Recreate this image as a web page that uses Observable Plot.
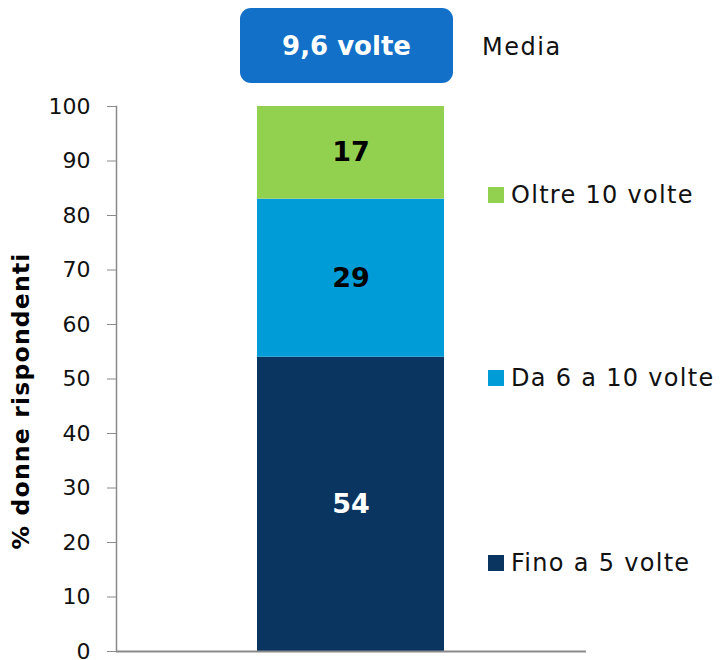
<!DOCTYPE html>
<html>
<head>
<meta charset="utf-8">
<script src="https://cdn.jsdelivr.net/npm/d3@7"></script>
<script src="https://cdn.jsdelivr.net/npm/@observablehq/plot@0.6"></script>
<style>
  html, body { margin: 0; padding: 0; background: #fff; }
  #wrap { position: relative; width: 726px; height: 660px; overflow: hidden; font-family: "DejaVu Sans", sans-serif; }
  #chart svg { display: block; }
  .ov { position: absolute; white-space: nowrap; color: #111; }
  #mean { left: 240px; top: 8px; width: 213px; height: 75px; background: #1270C8; border-radius: 11px;
          color: #fff; font-weight: bold; font-size: 26px; display: flex; align-items: center; justify-content: center; }
  #meanLabel { left: 482px; top: 33px; font-size: 24px; letter-spacing: 1.5px; }
  .leg { position: absolute; left: 488px; display: flex; align-items: center; font-size: 24px; letter-spacing: 1.3px; color: #111; white-space: nowrap; }
  .leg span.sw { display: inline-block; width: 16px; height: 16px; margin-right: 7px; }
  #ylab { left: 21px; top: 401px; transform: translate(-50%, -50%) rotate(-90deg); font-weight: bold; font-size: 23.5px; letter-spacing: 1.2px; color: #000; }
</style>
</head>
<body>
<div id="wrap">
  <div id="chart"></div>
</div>
<script>
const categories = ["Fino a 5 volte", "Da 6 a 10 volte", "Oltre 10 volte"];
const values = [54, 29, 17];
const colors = ["#0A3561", "#009CD8", "#92D050"];
const labelColors = ["#ffffff", "#000000", "#000000"];
const barName = ["Totale"];
const yTicks = [0, 10, 20, 30, 40, 50, 60, 70, 80, 90, 100];
const meanValue = "9,6 volte";
const meanText = "Media";
const yTitle = "% donne rispondenti";

const data = categories.map((c, i) => ({cat: c, group: barName[0], value: values[i], lc: labelColors[i]}));

const chart = Plot.plot({
  width: 726,
  height: 660,
  marginLeft: 116,
  marginRight: 140,
  marginTop: 106,
  marginBottom: 9,
  style: {fontFamily: "DejaVu Sans, sans-serif", fontSize: "22px", color: "#111", overflow: "visible"},
  x: {domain: barName, padding: 0.4286, axis: null},
  y: {domain: [0, 100], axis: null},
  color: {domain: categories, range: colors},
  marks: [
    Plot.barY(data, Plot.stackY({x: "group", y: "value", fill: "cat"})),
    Plot.text(data, Plot.stackY({x: "group", y: "value", text: d => String(d.value), fill: "lc",
      fontSize: 27, fontWeight: "bold"})),
    Plot.axisY({ticks: yTicks, tickSize: 9, tickPadding: 17, stroke: "#8a8a8a", fill: "#111", fontSize: 22, label: null}),
    Plot.frame({anchor: "left", stroke: "#8a8a8a", strokeWidth: 1.5}),
    Plot.ruleY([0], {stroke: "#8a8a8a", strokeWidth: 2})
  ]
});
document.getElementById("chart").appendChild(chart);

const wrap = document.getElementById("wrap");
const mean = document.createElement("div");
mean.className = "ov"; mean.id = "mean"; mean.textContent = meanValue;
wrap.appendChild(mean);
const ml = document.createElement("div");
ml.className = "ov"; ml.id = "meanLabel"; ml.textContent = meanText;
wrap.appendChild(ml);
const yl = document.createElement("div");
yl.className = "ov"; yl.id = "ylab"; yl.textContent = yTitle;
wrap.appendChild(yl);

const legendTops = {"Oltre 10 volte": 195, "Da 6 a 10 volte": 378, "Fino a 5 volte": 563};
categories.forEach((c, i) => {
  const d = document.createElement("div");
  d.className = "leg";
  d.style.top = (legendTops[c] - 14) + "px";
  d.style.height = "28px";
  const sw = document.createElement("span");
  sw.className = "sw"; sw.style.background = colors[i];
  d.appendChild(sw);
  const t = document.createElement("span");
  t.textContent = c;
  d.appendChild(t);
  wrap.appendChild(d);
});
</script>
</body>
</html>
